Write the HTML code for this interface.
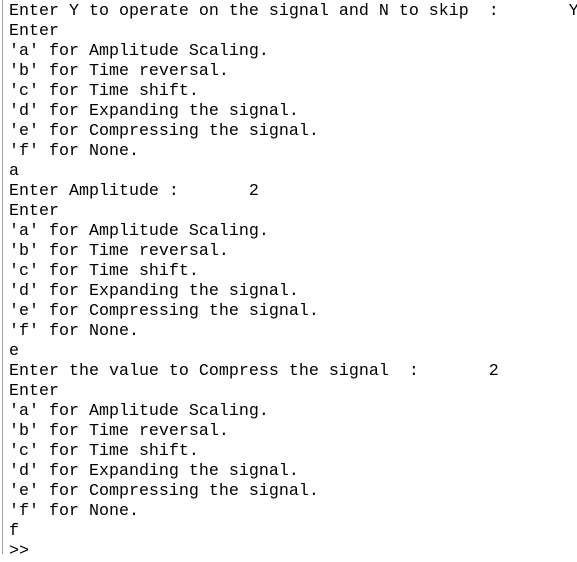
<!DOCTYPE html>
<html><head><style>
html,body{margin:0;padding:0;background:#fff;width:577px;height:554px;overflow:hidden}
.b{position:absolute;left:2px;top:0;width:1px;height:554px;background:#a0a0a0}
pre{position:absolute;left:9px;top:2px;margin:0;font-family:"Liberation Mono",monospace;font-size:16.67px;line-height:20px;color:#000;white-space:pre}
</style></head><body><div class="b"></div><pre>Enter Y to operate on the signal and N to skip  :       Y
Enter
'a' for Amplitude Scaling.
'b' for Time reversal.
'c' for Time shift.
'd' for Expanding the signal.
'e' for Compressing the signal.
'f' for None.
a
Enter Amplitude :       2
Enter
'a' for Amplitude Scaling.
'b' for Time reversal.
'c' for Time shift.
'd' for Expanding the signal.
'e' for Compressing the signal.
'f' for None.
e
Enter the value to Compress the signal  :       2
Enter
'a' for Amplitude Scaling.
'b' for Time reversal.
'c' for Time shift.
'd' for Expanding the signal.
'e' for Compressing the signal.
'f' for None.
f
&gt;&gt;</pre></body></html>
